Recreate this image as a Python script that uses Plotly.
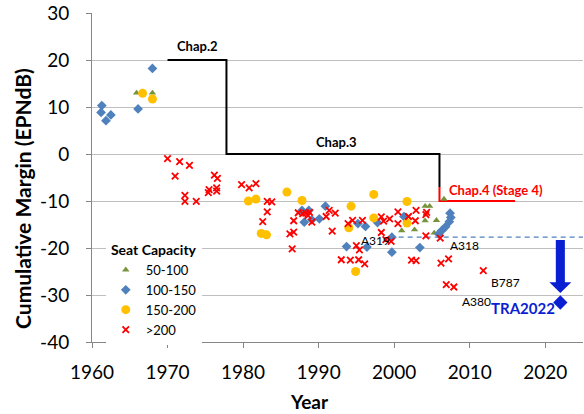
import plotly.graph_objects as go

# ---------------- data ----------------
green_years = [1965.9, 1968.0, 2001.0, 2002.7, 2004.1, 2004.7, 2004.1, 2005.6, 2005.3, 2006.6]
green_vals = [13.0, 13.0, -16.3, -16.1, -11.1, -11.1, -14.2, -14.1, -16.8, -9.6]

blue_years = [1961.3, 1961.2, 1962.5, 1961.85, 1966.1, 1968.0, 1987.8, 1988.7, 1988.1, 1989.1,
              1990.1, 1990.9, 1995.2, 1996.2, 1997.8, 2001.3, 1993.7, 1996.4, 1999.7, 1999.7,
              2003.4, 2005.9, 2006.3, 2006.8, 2007.4, 2007.5, 2007.3]
blue_vals = [10.3, 8.85, 8.3, 7.1, 9.6, 18.2, -12.0, -12.0, -14.5, -14.0,
             -13.8, -11.1, -14.8, -15.4, -14.6, -13.3, -19.7, -19.8, -17.7, -20.9,
             -19.9, -17.0, -16.3, -15.5, -12.6, -13.5, -14.4]

yellow_years = [1966.7, 1968.0, 1980.7, 1981.7, 1982.4, 1983.1, 1985.8, 1987.8, 1994.3, 1994.0,
                1994.9, 1997.3, 1997.3, 2001.7, 2001.7]
yellow_vals = [12.9, 11.7, -10.0, -9.6, -16.9, -17.2, -8.1, -9.9, -11.1, -15.7,
               -25.0, -8.6, -13.6, -10.1, -14.7]

red_years = [1970.0, 1971.6, 1972.9, 1971.0, 1976.2, 1976.6, 1975.5, 1976.5, 1976.5, 1975.4,
             1972.3, 1972.3, 1973.8, 1979.8, 1980.8, 1981.7, 1983.2, 1983.8, 1983.2, 1982.6,
             1986.7, 1987.3, 1986.2, 1986.7, 1986.5, 1987.9, 1988.3, 1988.8, 1988.6, 1989.1,
             1991.4, 1992.2, 1991.0, 1991.8, 1993.9, 1994.5, 1995.8, 1995.0, 1995.4, 1993.0,
             1994.2, 1995.3, 1996.1, 1998.3, 1998.6, 1999.4, 1998.3, 1998.9, 1999.6, 2000.5,
             2000.5, 2001.9, 2002.9, 2002.8, 2004.2, 2004.3, 2004.2, 2006.1, 2002.3, 2002.9,
             2006.2, 2007.2, 2011.8, 2006.9, 2007.9]
red_vals = [-1.0, -1.6, -2.4, -4.7, -4.5, -5.2, -7.6, -7.2, -7.9, -8.2,
            -8.8, -10.1, -10.1, -6.5, -7.2, -6.3, -10.1, -10.2, -12.3, -14.4,
            -14.2, -12.5, -17.0, -16.6, -20.2, -12.7, -12.6, -12.4, -13.1, -14.5,
            -12.0, -12.6, -13.3, -16.4, -14.8, -14.1, -14.1, -19.5, -20.4, -22.5,
            -22.6, -22.5, -23.4, -13.4, -14.3, -13.8, -16.7, -18.2, -18.6, -12.3,
            -14.8, -13.3, -12.0, -14.2, -12.9, -12.4, -17.4, -17.9, -22.6, -22.7,
            -23.2, -22.3, -24.8, -27.8, -28.3]

legend_names = ["50-100", "100-150", "150-200", ">200"]

x_ticks = [1960, 1970, 1980, 1990, 2000, 2010, 2020]
y_ticks = [-40, -30, -20, -10, 0, 10, 20, 30]
y_tick_labels = ["-40", "-30", "-20", "-10", "0", "10", "20", "30"]

# regulatory limits (year, level)
chap2_years = [1970, 1977.8]
chap2_level = 20
chap3_years = [1977.8, 2006]
chap3_level = 0
chap4_years = [2006, 2016]
chap4_level = -10

# goal
tra_year = 2022
tra_value = -31.6
dashed_level = -17.7
dashed_years = [2000.6, 2025]
arrow_top, arrow_head, arrow_tip = -18.3, -27.3, -29.6

aircraft_labels = ["A319", "A318", "B787", "A380"]
aircraft_x = [1997.5, 2009.3, 2014.8, 2010.9]
aircraft_y = [-18.5, -19.4, -27.3, -31.4]

FONT = "Lato, 'Open Sans', sans-serif"
GREEN, BLUE, YELLOW, RED = "#77933C", "#4F81BD", "#FFC000", "#FF0000"
ARROW_BLUE = "#0A1ED2"

fig = go.Figure()

# limit lines
fig.add_trace(go.Scatter(x=[chap2_years[0], chap2_years[1], chap3_years[0], chap3_years[1], chap3_years[1]],
                         y=[chap2_level, chap2_level, chap3_level, chap3_level, -7],
                         mode="lines", line=dict(color="black", width=2), showlegend=False, hoverinfo="skip"))
fig.add_trace(go.Scatter(x=[chap4_years[0], chap4_years[0], chap4_years[1]],
                         y=[-7, chap4_level, chap4_level],
                         mode="lines", line=dict(color=RED, width=2), showlegend=False, hoverinfo="skip"))
fig.add_trace(go.Scatter(x=dashed_years, y=[dashed_level, dashed_level], mode="lines",
                         line=dict(color=BLUE, width=1.3, dash="5px,4px"), showlegend=False, hoverinfo="skip"))

# data series
fig.add_trace(go.Scatter(x=green_years, y=green_vals, mode="markers", name=legend_names[0],
                         marker=dict(symbol="triangle-up", size=6.5, color=GREEN)))
fig.add_trace(go.Scatter(x=blue_years, y=blue_vals, mode="markers", name=legend_names[1],
                         marker=dict(symbol="diamond", size=7.5, color=BLUE)))
fig.add_trace(go.Scatter(x=yellow_years, y=yellow_vals, mode="markers", name=legend_names[2],
                         marker=dict(symbol="circle", size=9, color=YELLOW)))
fig.add_trace(go.Scatter(x=red_years, y=red_vals, mode="markers", name=legend_names[3],
                         marker=dict(symbol="x-thin", size=6.5, color=RED, line=dict(color=RED, width=1.8))))

# TRA2022 goal
fig.add_trace(go.Scatter(x=[tra_year], y=[tra_value], mode="markers", showlegend=False,
                         marker=dict(symbol="diamond", size=11, color=ARROW_BLUE)))

# arrow
sw, hw = 0.6, 1.45
path = (f"M {tra_year - sw} {arrow_top} L {tra_year + sw} {arrow_top} L {tra_year + sw} {arrow_head} "
        f"L {tra_year + hw} {arrow_head} L {tra_year} {arrow_tip} L {tra_year - hw} {arrow_head} "
        f"L {tra_year - sw} {arrow_head} Z")
fig.add_shape(type="path", path=path, xref="x", yref="y", fillcolor=ARROW_BLUE, line=dict(width=0))

# annotations
ann = []
ann.append(dict(x=1974.0, y=23.0, text="<b>Chap.2</b>", showarrow=False, font=dict(size=13, color="black", family=FONT)))
ann.append(dict(x=1992.4, y=2.6, text="<b>Chap.3</b>", showarrow=False, font=dict(size=13, color="black", family=FONT)))
ann.append(dict(x=2013.5, y=-7.6, text="<b>Chap.4 (Stage 4)</b>", showarrow=False, font=dict(size=13, color=RED, family=FONT)))
for t, ax, ay in zip(aircraft_labels, aircraft_x, aircraft_y):
    ann.append(dict(x=ax, y=ay, text=t, showarrow=False, font=dict(size=12, color="black", family=FONT)))
ann.append(dict(x=2017.0, y=-32.7, text="<b>TRA2022</b>", showarrow=False, font=dict(size=15, color=ARROW_BLUE, family=FONT)))
ann.append(dict(x=0.442, y=-0.18, xref="paper", yref="paper", xanchor="center", yanchor="middle",
                text="<b>Year</b>", showarrow=False, font=dict(size=19, color="black", family=FONT)))
ann.append(dict(x=-0.1405, y=0.435, xref="paper", yref="paper", xanchor="center", yanchor="middle",
                text="<b>Cumulative Margin (EPNdB)</b>", textangle=-90,
                showarrow=False, font=dict(size=21, color="black", family=FONT)))
for a in ann:
    a.setdefault("xref", "x")
    a.setdefault("yref", "y")

fig.update_layout(
    width=584, height=414, autosize=False,
    margin=dict(l=92, r=1, t=13, b=72),
    plot_bgcolor="white", paper_bgcolor="white",
    font=dict(family=FONT, color="black"),
    annotations=ann,
    legend=dict(x=0.028, y=0.32, xanchor="left", yanchor="top", bgcolor="white",
                title=dict(text="<b>Seat Capacity</b>", font=dict(size=14), side="top center"),
                font=dict(size=13), tracegroupgap=0, itemwidth=30, itemsizing="trace"),
    xaxis=dict(range=[1960, 2025], tickvals=x_ticks,
               showline=True, linecolor="#868686", linewidth=1, ticks="outside", ticklen=5,
               tickcolor="#868686", showgrid=False, zeroline=False, tickfont=dict(size=19),
               ticklabelstandoff=8, automargin=False),
    yaxis=dict(range=[-40, 30], tickvals=y_ticks, ticktext=y_tick_labels,
               showline=True, linecolor="#868686", linewidth=1,
               ticks="outside", ticklen=5, tickcolor="#868686", showgrid=True, gridcolor="#BFBFBF",
               zeroline=False, tickfont=dict(size=19), ticklabelstandoff=13, automargin=False),
)

fig.write_html("out.html", config={"displayModeBar": False},
               post_script="document.body.style.margin='0';")
